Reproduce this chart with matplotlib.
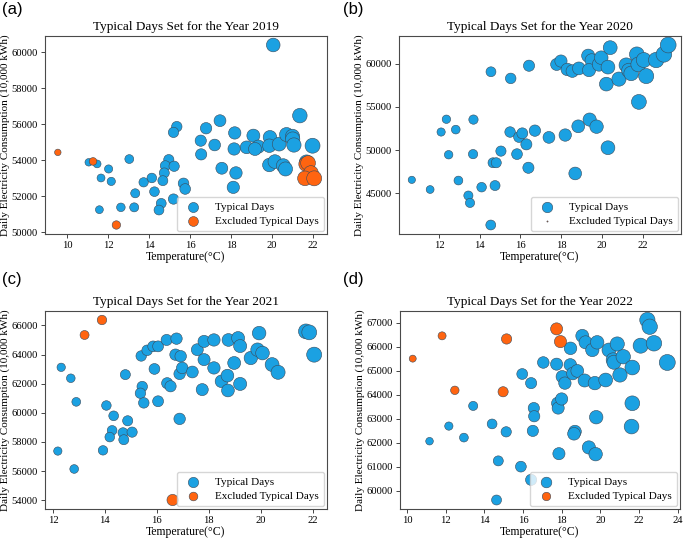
import numpy as np
import matplotlib
matplotlib.use('Agg')
import matplotlib.pyplot as plt

plt.rcParams['font.family'] = ['Liberation Serif', 'DejaVu Serif']

BLUE = '#1BA1E2'
ORANGE = '#FF6410'
EDGE = '#3A4A5A'

# ---------------- 2019 ----------------
t2019_typ = [20.05, 21.35, 17.45, 16.77, 15.34, 15.18, 16.51, 16.53, 17.19, 18.14,
             18.17, 18.75, 19.08, 19.32, 19.16, 19.89, 19.86, 20.34, 20.70, 20.99,
             21.00, 21.06, 21.97, 19.86, 20.13, 20.54, 20.65, 17.54, 18.23, 18.10,
             21.68, 14.95, 14.78, 15.21, 14.73, 14.66, 14.12, 14.25, 13.72, 13.31,
             13.26, 13.02, 12.61, 12.01, 12.14, 11.64, 11.04, 11.45, 11.56, 15.67,
             15.75, 15.18, 14.58, 14.47]
e2019_typ = [60400, 56480, 56200, 55780, 55870, 55550, 55090, 54330, 54850, 54630,
             55520, 54720, 55370, 54760, 54630, 55280, 54810, 54900, 55430, 55330,
             55180, 54850, 54810, 53740, 53930, 53700, 53520, 53560, 53300, 52500,
             53890, 54040, 53700, 53670, 53300, 52870, 53020, 52260, 52780, 52170,
             51390, 54070, 51390, 53520, 52830, 53020, 53890, 53800, 51260, 52720,
             52410, 51850, 51610, 51240]
t2019_exc = [9.53, 11.25, 12.39, 21.66, 21.75, 21.89, 21.60, 22.05]
e2019_exc = [54440, 53940, 50410, 53790, 53850, 53290, 53000, 53000]

# ---------------- 2020 ----------------
t2020_typ = [10.66, 11.56, 12.10, 12.36, 12.82, 12.47, 12.95, 13.44, 13.52, 13.69,
             13.67, 14.09, 14.55, 14.54, 14.75, 14.65, 14.81, 15.04, 15.52, 15.49,
             15.83, 15.93, 16.09, 16.29, 16.39, 16.42, 16.71, 17.40, 17.78, 17.99,
             18.20, 18.69, 18.84, 18.30, 18.55, 18.87, 19.40, 19.74, 19.33, 19.50,
             19.37, 19.86, 19.97, 20.30, 20.41, 20.22, 20.30, 20.84, 21.20, 21.33,
             21.44, 21.72, 21.79, 21.82, 22.06, 22.18, 22.67, 23.05, 23.26]
e2020_typ = [46550, 45430, 52090, 53570, 52370, 49460, 46470, 44730, 43880, 53530,
             49530, 45700, 59070, 41320, 45890, 48530, 48530, 49880, 58300, 52090,
             49530, 51510, 51940, 50660, 47950, 59770, 52250, 51470, 59920, 60310,
             51740, 47290, 52750, 59340, 59150, 59460, 53530, 52710, 60930, 60390,
             59260, 59920, 60700, 59610, 61860, 57640, 50270, 58220, 59840, 59220,
             58880, 61090, 59920, 55580, 60430, 58570, 60430, 61090, 62170]
t2020_exc = []
e2020_exc = []

# ---------------- 2021 ----------------
t2021_typ = [12.19, 12.32, 12.69, 12.90, 12.82, 13.93, 14.06, 14.34, 14.28, 14.19,
             14.79, 14.88, 14.70, 14.73, 15.05, 15.40, 15.44, 15.37, 15.50, 15.63,
             15.86, 15.91, 16.05, 16.05, 16.38, 16.76, 16.72, 16.92, 16.40, 16.53,
             16.88, 16.98, 16.88, 17.37, 17.56, 17.75, 17.82, 17.82, 18.20, 18.20,
             18.49, 18.72, 18.74, 18.76, 18.98, 19.13, 19.21, 19.21, 19.62, 19.88,
             19.94, 20.07, 20.44, 20.67, 21.74, 21.87, 22.06]
e2021_typ = [57370, 63120, 62370, 60750, 56140, 57420, 60500, 59790, 58790, 58330,
             62620, 59450, 58630, 58150, 58670, 63900, 61800, 61340, 60680, 64290,
             64560, 63010, 64560, 60790, 65000, 65090, 63990, 63880, 62030, 61820,
             62670, 63080, 59580, 62800, 64330, 61590, 63650, 64900, 65000, 63080,
             62160, 62550, 61530, 65000, 63420, 65130, 64580, 61980, 63760, 64330,
             65470, 64100, 63310, 62780, 65590, 65520, 63990]
t2021_exc = [13.22, 13.89, 16.61]
e2021_exc = [65340, 66370, 54010]

# ---------------- 2022 ----------------
t2022_typ = [11.16, 12.16, 12.94, 13.42, 14.40, 15.13, 14.72, 14.63, 15.89, 16.42,
             15.96, 16.42, 16.56, 16.58, 16.51, 17.05, 17.74, 17.79, 17.82, 18.00,
             17.86, 18.03, 18.17, 18.46, 18.45, 18.58, 18.81, 18.69, 18.64, 19.07,
             19.24, 19.19, 19.41, 19.76, 19.59, 19.84, 19.72, 19.79, 20.28, 20.45,
             20.67, 20.71, 20.88, 21.02, 21.19, 21.66, 21.66, 21.62, 22.09, 22.44,
             22.56, 22.78, 23.47]
e2022_typ = [62060, 62690, 62210, 63530, 62780, 62450, 61240, 59610, 61000, 60450,
             64860, 64480, 63440, 63100, 62490, 65340, 65270, 63640, 63440, 63820,
             61540, 64750, 64480, 65930, 65240, 64880, 64990, 62460, 62370, 66450,
             66180, 64590, 61800, 61520, 65860, 66180, 64480, 63060, 64610, 65860,
             65450, 65350, 66110, 64820, 65580, 65130, 63640, 62670, 66040, 67110,
             66830, 66140, 65340]
t2022_exc = [10.29, 11.81, 12.47, 15.15, 14.97, 17.74, 17.94]
e2022_exc = [65500, 66450, 64180, 66320, 64120, 66740, 66210]

years = ['2019', '2020', '2021', '2022']
panel_tags = ['(a)', '(b)', '(c)', '(d)']
typ_t = [t2019_typ, t2020_typ, t2021_typ, t2022_typ]
typ_e = [e2019_typ, e2020_typ, e2021_typ, e2022_typ]
exc_t = [t2019_exc, t2020_exc, t2021_exc, t2022_exc]
exc_e = [e2019_exc, e2020_exc, e2021_exc, e2022_exc]

W, H = 683, 538
fig = plt.figure(figsize=(W / 100, H / 100), dpi=100)

boxes = [(45, 36, 327, 234), (399, 36, 681, 234),
         (45, 311, 327, 509), (400, 311, 680, 509)]
tag_pos = [(2, 2), (343, 2), (2, 272), (343, 272)]


def msize(t):
    t = np.asarray(t, dtype=float)
    return 0.24 * t ** 2


for i in range(4):
    l, t, r, b = boxes[i]
    ax = fig.add_axes([l / W, 1 - b / H, (r - l) / W, (b - t) / H])
    ax.scatter(typ_t[i], typ_e[i], s=msize(typ_t[i]), c=BLUE,
               edgecolors=EDGE, linewidths=0.4, label='Typical Days', zorder=2)
    ax.scatter(exc_t[i], exc_e[i], s=msize(exc_t[i]), c=ORANGE,
               edgecolors=EDGE, linewidths=0.4, label='Excluded Typical Days', zorder=3)
    ax.set_title('Typical Days Set for the Year ' + years[i], fontsize=9.5, pad=4)
    ax.set_xlabel('Temperature(°C)', fontsize=8.5, labelpad=1)
    ax.set_ylabel('Daily Electricity Consumption (10,000 kWh)', fontsize=8, labelpad=1)
    ax.tick_params(labelsize=7.6, length=3, width=0.7, color='#444444', pad=2)
    for sp in ax.spines.values():
        sp.set_color('#4A4A4A')
        sp.set_linewidth(0.8)
    leg = ax.legend(loc='lower right', fontsize=8, scatterpoints=1,
                    borderpad=0.45, handletextpad=1.1, labelspacing=0.4,
                    borderaxespad=0.25, framealpha=0.8, fancybox=True,
                    markerscale=0.85, handlelength=1.9)
    leg.get_frame().set_edgecolor('#CCCCCC')
    fig.text(tag_pos[i][0] / W, 1 - tag_pos[i][1] / H, panel_tags[i],
             family=['Liberation Sans', 'DejaVu Sans'], fontsize=12,
             ha='left', va='top')

fig.savefig('out.png', dpi=100)
